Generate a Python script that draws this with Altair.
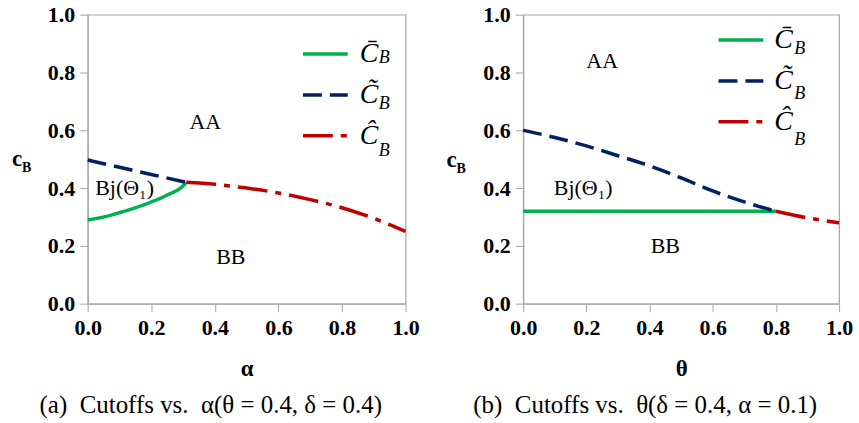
import altair as alt
import pandas as pd

# ---------------- data ----------------
SERIES = ["C\u0304", "C\u0303", "\u0108"]          # C-bar, C-tilde, C-hat  (subscript B added as text)
COLORS = ["#00b050", "#002060", "#c00000"]
DASHES = [[1, 0], [19, 8], [30, 8, 6, 8]]
TICKS = [0.0, 0.2, 0.4, 0.6, 0.8, 1.0]

# panel (a): cutoffs vs alpha
a_bar_x = [0.0, 0.05, 0.1, 0.15, 0.2, 0.25, 0.3, 0.31]
a_bar_y = [0.29, 0.30, 0.315, 0.332, 0.352, 0.376, 0.408, 0.42]
a_tilde_x = [0.0, 0.1, 0.2, 0.31]
a_tilde_y = [0.497, 0.472, 0.447, 0.42]
a_hat_x = [0.31, 0.4, 0.5, 0.6, 0.7, 0.8, 0.9, 1.0]
a_hat_y = [0.42, 0.413, 0.40, 0.383, 0.36, 0.332, 0.295, 0.25]
a_regions = ["AA", "Bj(\u0398\u2081)", "BB"]
a_reg_x = [0.37, 0.116, 0.45]
a_reg_y = [0.63, 0.40, 0.16]

# panel (b): cutoffs vs theta
b_bar_x = [0.0, 0.8]
b_bar_y = [0.32, 0.32]
b_tilde_x = [0.0, 0.1, 0.2, 0.3, 0.4, 0.5, 0.6, 0.7, 0.8]
b_tilde_y = [0.60, 0.575, 0.546, 0.512, 0.477, 0.435, 0.39, 0.352, 0.32]
b_hat_x = [0.8, 0.9, 1.0]
b_hat_y = [0.32, 0.297, 0.28]
b_regions = ["AA", "Bj(\u0398\u2081)", "BB"]
b_reg_x = [0.25, 0.19, 0.45]
b_reg_y = [0.84, 0.40, 0.20]

CAPTION_A = "(a)\u00a0 Cutoffs vs.\u00a0 \u03b1(\u03b8 = 0.4, \u03b4 = 0.4)"
CAPTION_B = "(b)\u00a0 Cutoffs vs.\u00a0 \u03b8(\u03b4 = 0.4, \u03b1 = 0.1)"

GREY = "#a6a6a6"


def panel(curves, regions, reg_x, reg_y, xtitle, caption, w, h,
          leg_xy, label_offset, sub_pos, ytitle_pos):
    rows = []
    for name, (xs, ys) in zip(SERIES, curves):
        for x, y in zip(xs, ys):
            rows.append({"series": name, "x": x, "y": y})
    df = pd.DataFrame(rows)
    xscale = alt.Scale(domain=[0, 1], nice=False, zero=False)
    yscale = alt.Scale(domain=[0, 1], nice=False, zero=False)
    legend = alt.Legend(
        orient="none", legendX=leg_xy[0], legendY=leg_xy[1], title=None,
        symbolType="stroke", symbolSize=2025, symbolStrokeWidth=3.5,
        labelFont="Liberation Serif", labelFontStyle="italic", labelFontSize=28,
        labelColor="black", labelOffset=label_offset, rowPadding=2, padding=0,
    )
    lines = alt.Chart(df).mark_line(strokeWidth=3.5, interpolate="monotone").encode(
        x=alt.X("x:Q", scale=xscale,
                axis=alt.Axis(values=TICKS, format=".1f", title=xtitle)),
        y=alt.Y("y:Q", scale=yscale,
                axis=alt.Axis(values=TICKS, format=".1f", title=None)),
        color=alt.Color("series:N", scale=alt.Scale(domain=SERIES, range=COLORS),
                        legend=legend, sort=SERIES),
        strokeDash=alt.StrokeDash("series:N", scale=alt.Scale(domain=SERIES, range=DASHES),
                                  legend=legend, sort=SERIES),
    )
    rdf = pd.DataFrame({"label": regions, "x": reg_x, "y": reg_y})
    texts = alt.Chart(rdf).mark_text(font="Liberation Serif", fontSize=22, color="black").encode(
        x=alt.X("x:Q", scale=xscale), y=alt.Y("y:Q", scale=yscale), text="label:N"
    )
    layers = [lines, texts]
    # subscript B for legend labels
    for (sx, sy) in sub_pos:
        layers.append(
            alt.Chart().mark_text(text="B", font="Liberation Serif", fontStyle="italic",
                                  fontSize=18, align="left", baseline="alphabetic",
                                  color="black")
            .encode(x=alt.value(sx), y=alt.value(sy))
        )
    # y-axis title c_B
    cx, cy = ytitle_pos
    layers.append(
        alt.Chart().mark_text(text="c", font="Liberation Serif", fontWeight="bold",
                              fontSize=23, align="left", baseline="alphabetic", color="black")
        .encode(x=alt.value(cx), y=alt.value(cy))
    )
    layers.append(
        alt.Chart().mark_text(text="B", font="Liberation Serif", fontWeight="bold",
                              fontSize=14, align="left", baseline="alphabetic", color="black")
        .encode(x=alt.value(cx + 10), y=alt.value(cy + 6))
    )
    return alt.layer(*layers).properties(
        width=w, height=h,
        title=alt.TitleParams(caption, orient="bottom", font="Liberation Serif",
                              fontSize=25, fontWeight="normal", color="black",
                              offset=13, dx=-36),
    )


left = panel([(a_bar_x, a_bar_y), (a_tilde_x, a_tilde_y), (a_hat_x, a_hat_y)],
             a_regions, a_reg_x, a_reg_y, "\u03b1", CAPTION_A, 319, 290,
             (214, 15), 10, [(292, 48), (292, 95), (292, 142)], (-76, 152))
right = panel([(b_bar_x, b_bar_y), (b_tilde_x, b_tilde_y), (b_hat_x, b_hat_y)],
              b_regions, b_reg_x, b_reg_y, "\u03b8", CAPTION_B, 317, 290,
              (194, 1), 9, [(272, 39), (272, 85), (272, 131)], (-77, 153))

chart = alt.hconcat(left, right, spacing=25).resolve_legend(
    color="independent", strokeDash="independent"
).resolve_scale(color="independent", strokeDash="independent").configure(
    padding={"left": 11, "top": 2, "right": 5, "bottom": 2},
    background="white",
).configure_view(
    stroke=GREY, strokeWidth=1.2
).configure_axis(
    grid=False, domainColor=GREY, tickColor=GREY, tickSize=8, domainWidth=1.2,
    labelFont="Liberation Serif", labelFontWeight="bold", labelFontSize=22,
    labelColor="black", labelPadding=3, labelFlush=False,
    titleFont="Liberation Serif", titleFontWeight="bold", titleFontSize=23,
    titleColor="black",
).configure_axisY(labelPadding=5).configure_axisX(labelPadding=6, titlePadding=19)

chart.save("out.html", embed_options={"renderer": "svg", "actions": False})
